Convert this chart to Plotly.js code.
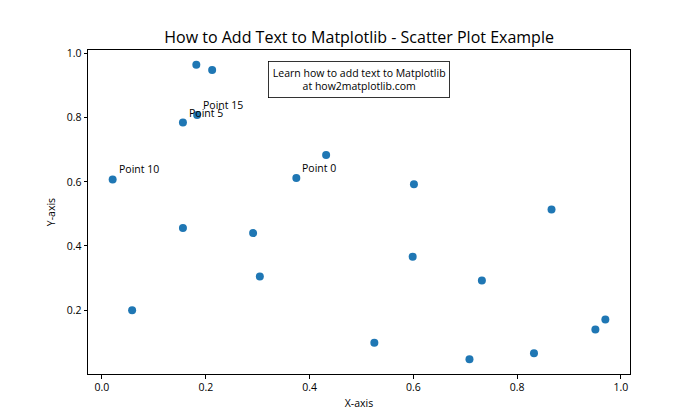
<!DOCTYPE html>
<html>
<head>
<meta charset="utf-8">
<script src="https://cdn.plot.ly/plotly-3.0.1.min.js"></script>
<style>html,body{margin:0;padding:0;background:#fff;}#chart{width:700px;height:420px;}</style>
</head>
<body>
<div id="chart"></div>
<script>
const xValues = [0.3745, 0.9507, 0.7320, 0.5987, 0.1560, 0.1560, 0.0581, 0.8662, 0.6011, 0.7081,
                 0.0206, 0.9699, 0.8324, 0.2123, 0.1818, 0.1834, 0.3042, 0.5248, 0.4319, 0.2912];
const yValues = [0.6119, 0.1395, 0.2921, 0.3664, 0.4561, 0.7852, 0.1997, 0.5142, 0.5924, 0.0465,
                 0.6075, 0.1705, 0.0651, 0.9489, 0.9656, 0.8084, 0.3046, 0.0977, 0.6842, 0.4402];
const labelledIdx = [0, 5, 10, 15];
const xTicks = [0.0, 0.2, 0.4, 0.6, 0.8, 1.0];
const yTicks = [0.2, 0.4, 0.6, 0.8, 1.0];
const tickText = v => v.toFixed(1);

const font = "'Open Sans', 'Noto Sans', sans-serif";
const annotations = labelledIdx.map(i => ({
  x: xValues[i], y: yValues[i], xref: 'x', yref: 'y',
  text: 'Point ' + i, showarrow: false,
  xanchor: 'left', yanchor: 'bottom', xshift: 4, yshift: 1,
  font: {family: font, size: 10.5, color: '#000'}
}));
annotations.push({
  x: 0.5, y: 0.908, xref: 'paper', yref: 'paper',
  text: 'Learn how to add text to Matplotlib<br>at how2matplotlib.com',
  showarrow: false, xanchor: 'center', yanchor: 'middle',
  bordercolor: '#000', borderwidth: 0.8, borderpad: 4, bgcolor: '#fff',
  font: {family: font, size: 10.5, color: '#000'}
});

Plotly.newPlot('chart', [{
  type: 'scatter', mode: 'markers', x: xValues, y: yValues,
  marker: {color: '#1f77b4', size: 8}, hoverinfo: 'none'
}], {
  width: 700, height: 420,
  margin: {l: 87.5, r: 70, t: 50.4, b: 46.2},
  paper_bgcolor: '#fff', plot_bgcolor: '#fff',
  showlegend: false,
  title: {text: 'How to Add Text to Matplotlib - Scatter Plot Example',
          font: {family: font, size: 16, color: '#000'},
          x: 0.513, xanchor: 'center', y: 0.898, yanchor: 'bottom'},
  xaxis: {range: [-0.0269, 1.0174], tickvals: xTicks, ticktext: xTicks.map(tickText),
          showgrid: false, zeroline: false, showline: true, mirror: true,
          linecolor: '#000', linewidth: 1, ticks: 'outside', ticklen: 3.5, tickcolor: '#000',
          tickfont: {family: font, size: 10.5, color: '#000'},
          title: {text: 'X-axis', font: {family: font, size: 10.5, color: '#000'}, standoff: 6}},
  yaxis: {range: [0.0005, 1.0116], tickvals: yTicks, ticktext: yTicks.map(tickText),
          showgrid: false, zeroline: false, showline: true, mirror: true,
          linecolor: '#000', linewidth: 1, ticks: 'outside', ticklen: 3.5, tickcolor: '#000',
          tickfont: {family: font, size: 10.5, color: '#000'},
          title: {text: 'Y-axis', font: {family: font, size: 10.5, color: '#000'}, standoff: 8}},
  annotations: annotations
}, {staticPlot: true});
</script>
</body>
</html>
